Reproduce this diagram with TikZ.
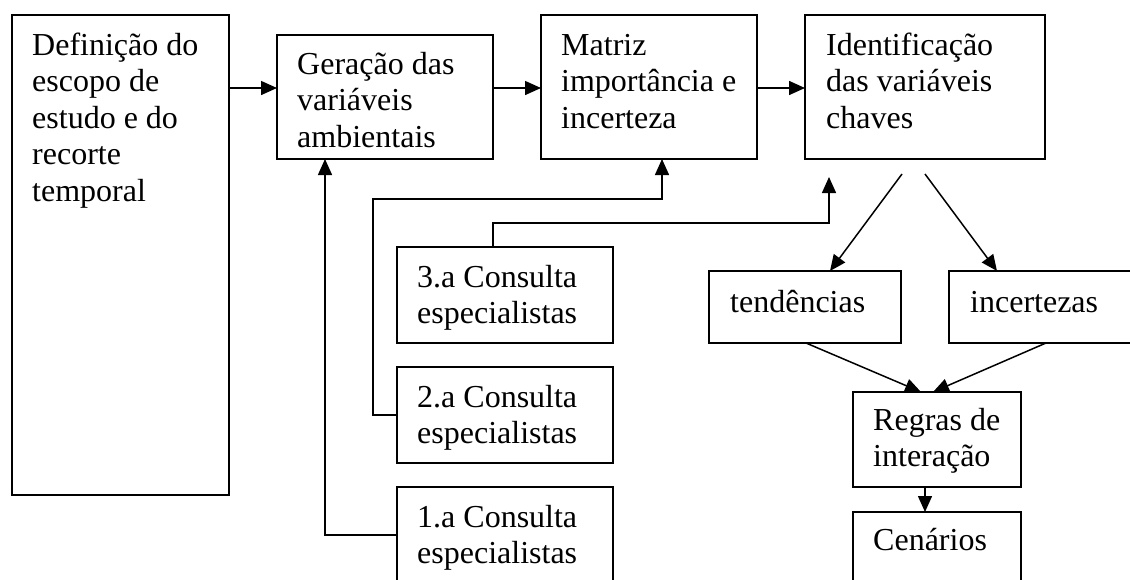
\documentclass[tikz,border=0pt]{standalone}
\usepackage{fontspec}
\setmainfont{Liberation Serif}
\usetikzlibrary{arrows.meta}
\newcommand\mlines[1]{\begin{tabular}[t]{@{}l@{}}#1\end{tabular}}
\begin{document}
\begin{tikzpicture}[x=1pt,y=-1pt,
  box/.style={draw, line width=1.5pt, inner sep=0pt, outer sep=0pt, anchor=north west},
  txt/.style={inner sep=0pt, anchor=base west, font=\fontsize{32}{36.5}\selectfont},
  arr/.style={line width=1.5pt, -{Triangle[length=16pt,width=14pt]}}]
\useasboundingbox (0,0) rectangle (1130,579);
\clip (0,0) rectangle (1130,579);
% boxes
\node[box, minimum width=217pt, minimum height=480pt] (def) at (12,15) {};
\node[box, minimum width=216pt, minimum height=124pt] (gera) at (277,35) {};
\node[box, minimum width=216pt, minimum height=144pt] (matriz) at (541,15) {};
\node[box, minimum width=240pt, minimum height=144pt] (ident) at (805,15) {};
\node[box, minimum width=216pt, minimum height=96pt] (c3) at (397,247) {};
\node[box, minimum width=216pt, minimum height=96pt] (c2) at (397,367) {};
\node[box, minimum width=216pt, minimum height=110pt] (c1) at (397,487) {};
\node[box, minimum width=192pt, minimum height=72pt] (tend) at (709,271) {};
\node[box, minimum width=200pt, minimum height=72pt] (incert) at (949,271) {};
\node[box, minimum width=168pt, minimum height=95pt] (regras) at (853,392) {};
\node[box, minimum width=168pt, minimum height=90pt] (cen) at (853,512) {};
% texts
\node[txt] (deft) at ([shift={(20pt,-40pt)}]def.north west) {\mlines{Definição do\\escopo de\\estudo e do\\recorte\\temporal}};
\node[txt] (gerat) at ([shift={(20pt,-39pt)}]gera.north west) {\mlines{Geração das\\variáveis\\ambientais}};
\node[txt] (matrizt) at ([shift={(20pt,-40pt)}]matriz.north west) {\mlines{Matriz\\importância e\\incerteza}};
\node[txt] (identt) at ([shift={(21pt,-40pt)}]ident.north west) {\mlines{Identificação\\das variáveis\\chaves}};
\node[txt] (c3t) at ([shift={(20pt,-40pt)}]c3.north west) {\mlines{3.a Consulta\\especialistas}};
\node[txt] (c2t) at ([shift={(20pt,-40pt)}]c2.north west) {\mlines{2.a Consulta\\especialistas}};
\node[txt] (c1t) at ([shift={(20pt,-40pt)}]c1.north west) {\mlines{1.a Consulta\\especialistas}};
\node[txt] (tendt) at ([shift={(21pt,-41pt)}]tend.north west) {tendências};
\node[txt] (incertt) at ([shift={(21pt,-41pt)}]incert.north west) {incertezas};
\node[txt] (regrast) at ([shift={(20pt,-38pt)}]regras.north west) {\mlines{Regras de\\interação}};
\node[txt] (cent) at ([shift={(20pt,-38pt)}]cen.north west) {Cenários};
% helper coordinates
\coordinate (r1) at (0,88);
\coordinate (k1) at (325,535);
\coordinate (k2a) at (373,415);
\coordinate (k2b) at (662,199);
\coordinate (k3a) at (493,223);
\coordinate (k3b) at (829,223);
\coordinate (k3t) at (829,177);
\coordinate (s1) at (902,174);
\coordinate (s2) at (925,174);
\coordinate (e1) at (830,0);
\coordinate (e2) at (997,0);
\coordinate (f1) at (806,0);
\coordinate (f2) at (1046,0);
\coordinate (g1) at (921,0);
\coordinate (g2) at (933,0);
\coordinate (h1) at (925,0);
% connectors
\draw[arr] (def.east |- r1) -- (gera.west |- r1);
\draw[arr] (gera.east |- r1) -- (matriz.west |- r1);
\draw[arr] (matriz.east |- r1) -- (ident.west |- r1);
\draw[arr] (c1.west |- k1) -- (k1) -- (k1 |- gera.south);
\draw[arr] (c2.west |- k2a) -- (k2a) -- (k2a |- k2b) -- (k2b) -- (k2b |- matriz.south);
\draw[arr] (k3a |- c3.north) -- (k3a) -- (k3b) -- (k3t);
\draw[arr] (s1) -- (tend.north -| e1);
\draw[arr] (s2) -- (incert.north -| e2);
\draw[arr] (tend.south -| f1) -- (regras.north -| g1);
\draw[arr] (incert.south -| f2) -- (regras.north -| g2);
\draw[arr] (regras.south -| h1) -- (cen.north -| h1);
\end{tikzpicture}
\end{document}
